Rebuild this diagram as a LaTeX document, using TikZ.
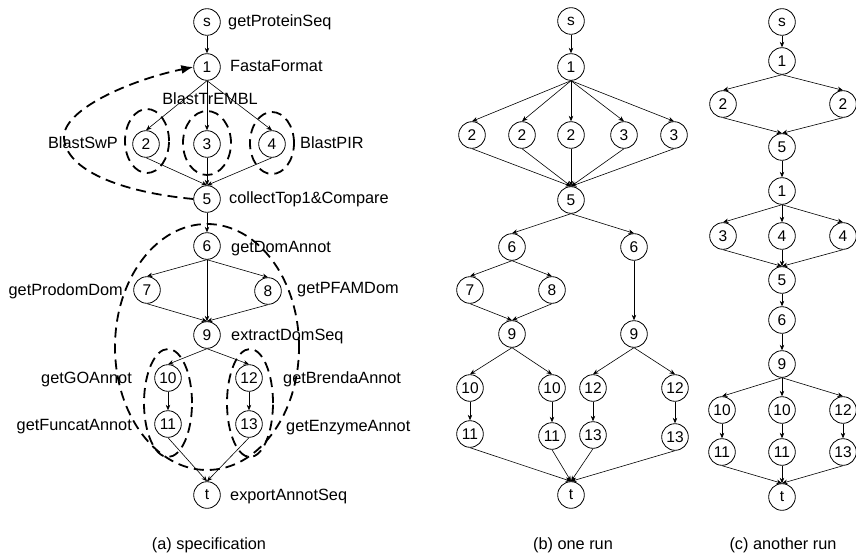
\documentclass[tikz,border=0pt]{standalone}
\usepackage{fontspec}
\setmainfont{Liberation Sans}
\usetikzlibrary{arrows.meta}
\begin{document}
\begin{tikzpicture}[x=1pt,y=-1pt,
  st/.style={circle,draw,line width=0.8pt,minimum size=26.6pt,inner sep=0pt,font=\fontsize{15.5}{16}\selectfont},
  lbl/.style={inner sep=0pt,font=\fontsize{16.3}{18}\selectfont},
  edge/.style={line width=0.6pt,-{Stealth[length=5.5pt,width=4.5pt]}},
  grp/.style={line width=1.8pt,dash pattern=on 10pt off 6pt},
]
\useasboundingbox (0,0) rectangle (856,556);

% ---------- (a) specification ----------
\node[st] (as) at (207,22) {s};
\node[st] (a1) at (207,67) {1};
\node[st] (a2) at (146,144) {2};
\node[st] (a3) at (207,144) {3};
\node[st] (a4) at (272,144) {4};
\node[st] (a5) at (207,199) {5};
\node[st] (a6) at (207,246) {6};
\node[st] (a7) at (147,290) {7};
\node[st] (a8) at (268,291) {8};
\node[st] (a9) at (207,335) {9};
\node[st] (a10) at (168,378) {10};
\node[st] (a12) at (249,378) {12};
\node[st] (a11) at (168,424) {11};
\node[st] (a13) at (249,424) {13};
\node[st] (at) at (207,495) {t};

\foreach \u/\v in {as/a1,a1/a2,a1/a3,a1/a4,a2/a5,a3/a5,a4/a5,a5/a6,a6/a7,a6/a8,a6/a9,a7/a9,a8/a9,a9/a10,a9/a12,a10/a11,a12/a13,a11/at,a13/at}
  \draw[edge] (\u.south) -- (\v.north);

\draw[grp,-{Latex[length=12pt,width=9pt]}] (a5.west) .. controls (120,192) and (66,170) .. (64,138) .. controls (62,110) and (130,80) .. (a1.west);
\draw[grp] (147,141) ellipse [x radius=22pt, y radius=32pt];
\draw[grp] (207,143) ellipse [x radius=24pt, y radius=32pt];
\draw[grp] (272,143) ellipse [x radius=22pt, y radius=31pt];
\draw[grp] (207,347) ellipse [x radius=92pt, y radius=123pt];
\draw[grp] (168,403) ellipse [x radius=24pt, y radius=54pt];
\draw[grp] (250,403) ellipse [x radius=23pt, y radius=54pt];

\node[lbl,anchor=base west] (l-s) at (228,27) {getProteinSeq};
\node[lbl,anchor=base west] (l-1) at (230,72) {FastaFormat};
\node[lbl,anchor=base] (l-3) at (210,105) {BlastTrEMBL};
\node[lbl,anchor=base east] (l-2) at (118,149) {BlastSwP};
\node[lbl,anchor=base west] (l-4) at (300,149) {BlastPIR};
\node[lbl,anchor=base west] (l-5) at (229,204) {collectTop1\&Compare};
\node[lbl,anchor=base west] (l-6) at (231,252) {getDomAnnot};
\node[lbl,anchor=base east] (l-7) at (123,295) {getProdomDom};
\node[lbl,anchor=base west] (l-8) at (297,293) {getPFAMDom};
\node[lbl,anchor=base west] (l-9) at (231,340) {extractDomSeq};
\node[lbl,anchor=base east] (l-10) at (132,383) {getGOAnnot};
\node[lbl,anchor=base west] (l-12) at (283,383) {getBrendaAnnot};
\node[lbl,anchor=base east] (l-11) at (132,430) {getFuncatAnnot};
\node[lbl,anchor=base west] (l-13) at (286,431) {getEnzymeAnnot};
\node[lbl,anchor=base west] (l-t) at (230,500) {exportAnnotSeq};
\node[lbl,anchor=base] (cap-a) at (209,549) {(a) specification};

% ---------- (b) one run ----------
\node[st] (bs) at (571,21) {s};
\node[st] (b1) at (571,67) {1};
\node[st] (b2a) at (472,135) {2};
\node[st] (b2b) at (522,135) {2};
\node[st] (b2c) at (571,135) {2};
\node[st] (b3a) at (624,135) {3};
\node[st] (b3b) at (674,135) {3};
\node[st] (b5) at (571,200) {5};
\node[st] (b6a) at (512,247) {6};
\node[st] (b6b) at (634,247) {6};
\node[st] (b7) at (470,290) {7};
\node[st] (b8) at (552,290) {8};
\node[st] (b9a) at (512,334) {9};
\node[st] (b9b) at (634,334) {9};
\node[st] (b10a) at (470,388) {10};
\node[st] (b10b) at (552,388) {10};
\node[st] (b12a) at (593,388) {12};
\node[st] (b12b) at (675,388) {12};
\node[st] (b11a) at (470,434) {11};
\node[st] (b11b) at (552,436) {11};
\node[st] (b13a) at (593,435) {13};
\node[st] (b13b) at (675,437) {13};
\node[st] (bt) at (571,495) {t};

\foreach \u/\v in {bs/b1,b1/b2a,b1/b2b,b1/b2c,b1/b3a,b1/b3b,b2a/b5,b2b/b5,b2c/b5,b3a/b5,b3b/b5,b5/b6a,b5/b6b,b6a/b7,b6a/b8,b7/b9a,b8/b9a,b6b/b9b,b9a/b10a,b9a/b10b,b9b/b12a,b9b/b12b,b10a/b11a,b10b/b11b,b12a/b13a,b12b/b13b,b11a/bt,b11b/bt,b13a/bt,b13b/bt}
  \draw[edge] (\u.south) -- (\v.north);

\node[lbl,anchor=base] (cap-b) at (573,549) {(b) one run};

% ---------- (c) another run ----------
\node[st] (cs) at (782,22) {s};
\node[st] (c1) at (782,61) {1};
\node[st] (c2a) at (723,104) {2};
\node[st] (c2b) at (843,104) {2};
\node[st] (c5) at (782,147) {5};
\node[st] (c1b) at (782,191) {1};
\node[st] (c3) at (723,236) {3};
\node[st] (c4a) at (782,236) {4};
\node[st] (c4b) at (843,236) {4};
\node[st] (c5b) at (782,280) {5};
\node[st] (c6) at (782,320) {6};
\node[st] (c9) at (782,364) {9};
\node[st] (c10a) at (722,410) {10};
\node[st] (c10b) at (782,410) {10};
\node[st] (c12) at (843,410) {12};
\node[st] (c11a) at (722,452) {11};
\node[st] (c11b) at (782,452) {11};
\node[st] (c13) at (843,452) {13};
\node[st] (ct) at (782,497) {t};

\foreach \u/\v in {cs/c1,c1/c2a,c1/c2b,c2a/c5,c2b/c5,c5/c1b,c1b/c3,c1b/c4a,c1b/c4b,c3/c5b,c4a/c5b,c4b/c5b,c5b/c6,c6/c9,c9/c10a,c9/c10b,c9/c12,c10a/c11a,c10b/c11b,c12/c13,c11a/ct,c11b/ct,c13/ct}
  \draw[edge] (\u.south) -- (\v.north);

\node[lbl,anchor=base] (cap-c) at (783,549) {(c) another run};
\end{tikzpicture}
\end{document}
